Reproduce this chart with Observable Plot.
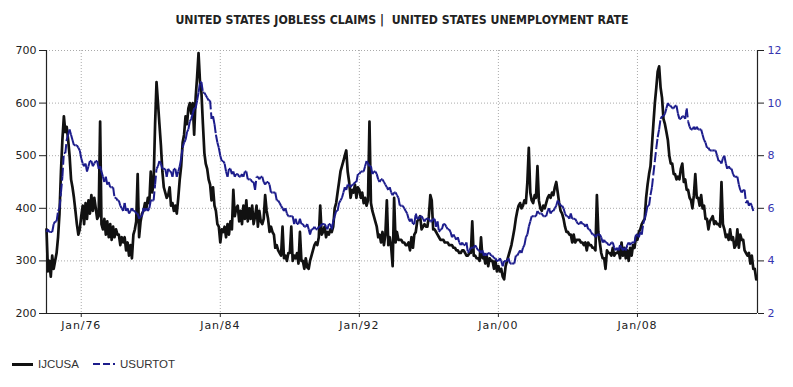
<!DOCTYPE html>
<html><head><meta charset="utf-8">
<script src="https://cdn.jsdelivr.net/npm/d3@7"></script>
<script src="https://cdn.jsdelivr.net/npm/@observablehq/plot@0.6"></script>
<style>
body{margin:0;background:#fff;width:793px;height:387px;overflow:hidden;position:relative;font-family:"DejaVu Sans",sans-serif;}
#title{position:absolute;top:11px;left:5px;width:793px;text-align:center;line-height:16px;}
#title span{display:inline-block;font-family:"DejaVu Sans Condensed","DejaVu Sans",sans-serif;font-weight:bold;font-size:12.5px;color:#222;white-space:pre;transform-origin:50% 50%;}
#chart{position:absolute;top:40px;left:0;}
#legend{position:absolute;top:357px;left:12px;font-family:"Liberation Sans",Arial,sans-serif;font-size:11.5px;color:#333;display:flex;align-items:center;height:14px;}
.sw{display:inline-block;width:21px;height:3px;margin-right:5px;}
</style></head><body>
<div id="title"><span>UNITED STATES JOBLESS CLAIMS |  UNITED STATES UNEMPLOYMENT RATE</span></div>
<div id="chart"></div>
<div id="legend"></div>
<script>
// ---- data ----
const startYear = 1974; // first month: Jan 1974, monthly values
const seriesNames = ["IJCUSA", "USURTOT"];
const leftTicks = [200, 300, 400, 500, 600, 700];
const rightTickLabels = [2, 4, 6, 8, 10, 12];
const xTickYears = [1976, 1984, 1992, 2000, 2008];

// Initial jobless claims (thousands), monthly
const claimsMonthly = [
 360,280,300,270,310,285,300,315,345,390,470,530, // 1974
 575,545,555,530,500,455,440,420,395,370,350,360, // 1975
 385,405,370,410,380,415,390,425,395,420,400,380, // 1976
 385,565,370,360,380,350,375,345,370,340,365,345, // 1977
 360,350,350,330,345,335,345,320,335,310,330,305, // 1978
 350,360,375,465,345,375,390,395,410,400,420,410, // 1979
 470,430,450,560,640,600,560,520,470,440,430,420, // 1980
 425,440,405,410,395,405,390,420,455,480,525,540, // 1981
 575,560,590,600,580,600,540,610,650,695,640,620, // 1982
 560,505,485,475,455,445,415,440,405,395,370,365, // 1983
 335,360,355,365,345,370,350,375,360,435,385,400, // 1984
 405,375,395,370,405,380,415,375,400,380,405,370, // 1985
 385,405,365,395,375,370,380,425,395,380,355,365, // 1986
 355,350,325,330,320,315,310,365,305,310,300,315, // 1987
 315,365,300,310,305,315,295,355,300,300,285,305, // 1988
 288,285,300,310,320,330,335,330,345,405,350,355, // 1989
 365,345,355,350,360,355,365,400,410,430,450,470, // 1990
 480,490,500,510,470,450,420,435,430,445,420,440, // 1991
 435,420,430,410,420,405,415,565,410,395,385,375, // 1992
 365,345,350,335,355,330,350,415,330,345,325,290, // 1993
 420,335,355,340,340,340,335,335,330,330,335,320, // 1994
 345,325,350,355,375,380,385,360,365,370,365,365, // 1995
 385,425,415,360,360,355,350,345,340,340,340,335, // 1996
 335,335,330,330,330,325,325,320,320,315,315,320, // 1997
 320,315,310,310,315,315,375,310,310,305,305,300, // 1998
 345,305,310,295,310,290,305,300,300,285,300,280, // 1999
 290,280,285,270,265,290,300,310,320,330,345,360, // 2000
 380,395,405,410,400,405,415,410,450,515,430,415, // 2001
 410,425,420,480,415,400,395,405,400,410,420,425, // 2002
 420,430,425,440,450,430,410,395,390,380,365,355, // 2003
 355,350,350,335,350,335,340,340,340,335,335,330, // 2004
 335,320,335,330,330,325,325,320,425,355,335,315, // 2005
 305,305,285,320,315,315,310,325,310,315,315,320, // 2006
 305,335,310,325,305,320,300,325,310,330,325,345, // 2007
 340,355,360,370,375,380,420,445,465,480,520,560, // 2008
 600,630,660,670,630,610,570,560,545,530,500,485, // 2009
 485,465,465,455,460,455,475,485,450,455,435,435, // 2010
 420,415,400,425,465,420,420,405,425,400,405,380, // 2011
 380,360,375,380,385,370,375,370,370,365,450,370, // 2012
 360,345,350,340,360,340,345,325,330,360,325,350, // 2013
 340,340,320,315,310,315,295,310,285,285,265      // 2014
];

// Unemployment rate (%), monthly
const rateMonthly = [
 5.1,5.2,5.1,5.1,5.1,5.4,5.5,5.5,5.9,6.0,6.6,7.2, // 1974
 8.1,8.1,8.6,8.8,9.0,8.8,8.6,8.4,8.4,8.4,8.3,8.2, // 1975
 7.9,7.7,7.6,7.7,7.4,7.6,7.8,7.8,7.6,7.7,7.8,7.8, // 1976
 7.5,7.6,7.4,7.2,7.0,7.2,6.9,7.0,6.8,6.8,6.8,6.4, // 1977
 6.4,6.3,6.3,6.1,6.0,5.9,6.2,5.9,6.0,5.8,5.9,6.0, // 1978
 5.9,5.9,5.8,5.8,5.6,5.7,5.7,6.0,5.9,6.0,5.9,6.0, // 1979
 6.3,6.3,6.3,6.9,7.5,7.6,7.8,7.7,7.5,7.5,7.5,7.2, // 1980
 7.5,7.4,7.4,7.2,7.5,7.5,7.2,7.4,7.6,7.9,8.3,8.5, // 1981
 8.6,8.9,9.0,9.3,9.4,9.6,9.8,9.8,10.1,10.4,10.8,10.8, // 1982
 10.4,10.4,10.3,10.2,10.1,10.1,9.4,9.5,9.2,8.8,8.5,8.3, // 1983
 8.0,7.8,7.8,7.7,7.4,7.2,7.5,7.5,7.3,7.4,7.2,7.3, // 1984
 7.3,7.2,7.2,7.3,7.2,7.4,7.4,7.1,7.1,7.1,7.0,7.0, // 1985
 6.7,7.2,7.2,7.1,7.2,7.2,7.0,6.9,7.0,7.0,6.9,6.6, // 1986
 6.6,6.6,6.6,6.3,6.3,6.2,6.1,6.0,5.9,6.0,5.8,5.7, // 1987
 5.7,5.7,5.7,5.4,5.6,5.4,5.4,5.6,5.4,5.4,5.3,5.3, // 1988
 5.4,5.2,5.0,5.2,5.2,5.3,5.2,5.2,5.3,5.3,5.4,5.4, // 1989
 5.4,5.3,5.2,5.4,5.4,5.2,5.5,5.7,5.9,5.9,6.2,6.3, // 1990
 6.4,6.6,6.8,6.7,6.9,6.9,6.8,6.9,6.9,7.0,7.0,7.3, // 1991
 7.3,7.4,7.4,7.4,7.6,7.8,7.7,7.6,7.6,7.3,7.4,7.4, // 1992
 7.3,7.1,7.0,7.1,7.1,7.0,6.9,6.8,6.7,6.8,6.6,6.5, // 1993
 6.6,6.6,6.5,6.4,6.1,6.1,6.1,6.0,5.9,5.8,5.6,5.5, // 1994
 5.6,5.4,5.4,5.8,5.6,5.6,5.7,5.7,5.6,5.5,5.6,5.6, // 1995
 5.6,5.5,5.5,5.6,5.6,5.3,5.5,5.1,5.2,5.2,5.4,5.4, // 1996
 5.3,5.2,5.2,5.1,4.9,5.0,4.9,4.8,4.9,4.7,4.6,4.7, // 1997
 4.6,4.6,4.7,4.3,4.4,4.5,4.5,4.5,4.6,4.5,4.4,4.4, // 1998
 4.3,4.4,4.2,4.3,4.2,4.3,4.3,4.2,4.2,4.1,4.1,4.0, // 1999
 4.0,4.1,4.0,3.8,4.0,4.0,4.0,4.1,3.9,3.9,3.9,3.9, // 2000
 4.2,4.2,4.3,4.4,4.3,4.5,4.6,4.9,5.0,5.3,5.5,5.7, // 2001
 5.7,5.7,5.7,5.9,5.8,5.8,5.8,5.7,5.7,5.7,5.9,6.0, // 2002
 5.8,5.9,5.9,6.0,6.1,6.3,6.2,6.1,6.1,6.0,5.8,5.7, // 2003
 5.7,5.6,5.8,5.6,5.6,5.6,5.5,5.4,5.4,5.5,5.4,5.4, // 2004
 5.3,5.4,5.2,5.2,5.1,5.0,5.0,4.9,5.0,5.0,5.0,4.9, // 2005
 4.7,4.8,4.7,4.7,4.6,4.6,4.7,4.7,4.5,4.4,4.5,4.4, // 2006
 4.6,4.5,4.4,4.5,4.4,4.6,4.7,4.6,4.7,4.7,4.7,5.0, // 2007
 5.0,4.9,5.1,5.0,5.4,5.6,5.8,6.1,6.1,6.5,6.8,7.3, // 2008
 7.8,8.3,8.7,9.0,9.4,9.5,9.5,9.6,9.8,10.0,9.9,9.9, // 2009
 9.8,9.8,9.9,9.9,9.6,9.4,9.4,9.5,9.5,9.4,9.8,9.3, // 2010
 9.1,9.0,9.0,9.1,9.0,9.1,9.0,9.0,9.0,8.8,8.6,8.5, // 2011
 8.3,8.3,8.2,8.2,8.2,8.2,8.2,8.0,7.8,7.8,7.7,7.9, // 2012
 8.0,7.7,7.5,7.6,7.5,7.5,7.3,7.2,7.2,7.2,6.9,6.7, // 2013
 6.6,6.7,6.7,6.2,6.3,6.1,6.2,6.1,5.9              // 2014
];

// ---- build ----
const monthDate = i => new Date(Date.UTC(startYear, i, 1));
// right axis (rate 2..12) shares the left scale (claims 200..700)
const rateToLeft = r => 200 + (r - 2) * 50;
const leftToRate = v => (v - 200) / 50 + 2;

const claims = claimsMonthly.map((v, i) => ({date: monthDate(i), v}));
const rate = rateMonthly.map((r, i) => ({date: monthDate(i), v: rateToLeft(r)}));
const rateSegs = rate.slice(1).map((d, i) => ({x1: rate[i].date, y1: rate[i].v, x2: d.date, y2: d.v}));
const xTicks = xTickYears.map(y => new Date(Date.UTC(y, 0, 1)));
const xDomain = [new Date(Date.UTC(1974, 0, 1)), new Date(Date.UTC(2014, 10, 28))];
const rightTicks = rightTickLabels.map(rateToLeft);

const blue = "#1c1c8c";
const plot = Plot.plot({
  width: 793, height: 303,
  marginTop: 10, marginBottom: 30, marginLeft: 46, marginRight: 36,
  style: {fontFamily: "DejaVu Sans, sans-serif", fontSize: "11px", color: "#222", background: "#fff"},
  x: {type: "utc", domain: xDomain},
  y: {domain: [200, 700]},
  marks: [
    Plot.gridY(leftTicks, {stroke: "#aaa", strokeOpacity: 1, strokeDasharray: "1,2"}),
    Plot.gridX(xTicks, {stroke: "#aaa", strokeOpacity: 1, strokeDasharray: "1,2"}),
    Plot.axisY(leftTicks, {anchor: "left", tickSize: 7, tickPadding: 3, label: null}),
    Plot.axisY(rightTicks, {anchor: "right", tickSize: 6, tickPadding: 4, label: null,
      tickFormat: v => String(leftToRate(v)), fill: "#3535b0"}),
    Plot.axisX(xTicks, {anchor: "bottom", tickSize: 4, tickPadding: 4, label: null,
      tickFormat: d => "Jan/" + String(d.getUTCFullYear()).slice(2)}),
    Plot.ruleY([200], {stroke: "#222", strokeWidth: 1.2}),
    Plot.ruleX(xDomain, {stroke: "#222", strokeWidth: 1.2}),
    Plot.line(claims, {x: "date", y: "v", stroke: "#111", strokeWidth: 2.7}),
    Plot.link(rateSegs, {x1: "x1", y1: "y1", x2: "x2", y2: "y2", stroke: blue, strokeWidth: 2, strokeDasharray: "9,3"})
  ]
});
document.getElementById("chart").appendChild(plot);
d3.select(plot).selectAll('g[aria-label="x-axis tick label"] text').style("letter-spacing", "0.9px");

// title width fit
const span = document.querySelector("#title span");
const w = span.getBoundingClientRect().width;
span.style.transform = `scaleX(${453 / w})`;

// legend
const lg = document.getElementById("legend");
lg.innerHTML =
  `<span class="sw" style="background:#111"></span><span style="margin-right:14px">${seriesNames[0]}</span>` +
  `<span class="sw" style="height:2px;width:22px;background:linear-gradient(to right, ${blue} 0 7px, transparent 7px 10px, ${blue} 10px 17px, transparent 17px 20px, ${blue} 20px 22px)"></span><span>${seriesNames[1]}</span>`;
</script>
</body></html>
